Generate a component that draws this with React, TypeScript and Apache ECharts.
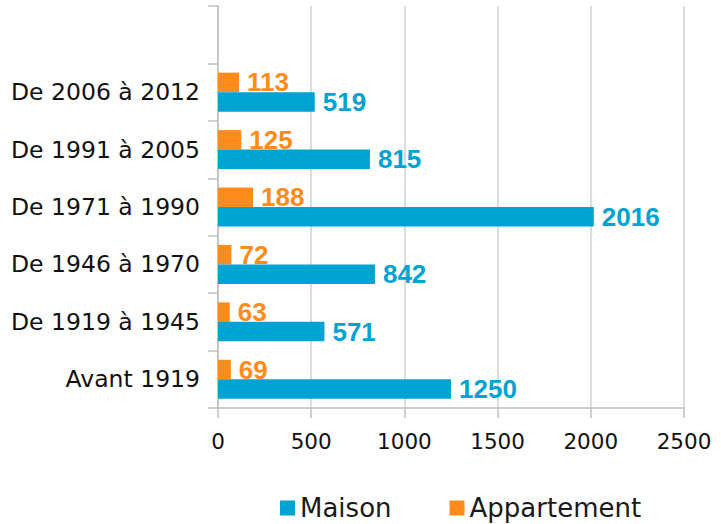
import React, { useEffect, useRef } from "react";
import * as echarts from "echarts";

const categories = ["Avant 1919", "De 1919 à 1945", "De 1946 à 1970", "De 1971 à 1990", "De 1991 à 2005", "De 2006 à 2012", ""];
const maison = [1250, 571, 842, 2016, 815, 519, null];
const appartement = [69, 63, 72, 188, 125, 113, null];
const xTicks = [0, 500, 1000, 1500, 2000, 2500];

const BLUE = "#00A3D1";
const ORANGE = "#FF8C1A";

export default function App() {
  const ref = useRef<HTMLDivElement>(null);
  useEffect(() => {
    if (!ref.current) return;
    const chart = echarts.init(ref.current, null, { renderer: "svg" });
    const labelStyle = (color: string) => ({
      show: true,
      position: "right",
      distance: 8,
      color,
      fontFamily: "Liberation Sans",
      fontWeight: "bold",
      fontSize: 26,
    });
    chart.setOption({
      animation: false,
      grid: { left: 218, right: 37, top: 6, bottom: 116, containLabel: false },
      legend: {
        left: 275,
        top: 490,
        itemWidth: 15,
        itemHeight: 15,
        itemGap: 58,
        icon: "rect",
        textStyle: { fontFamily: "DejaVu Sans", fontSize: 26, color: "#1a1a1a" },
        data: ["Maison", "Appartement"],
      },
      xAxis: {
        type: "value",
        min: xTicks[0],
        max: xTicks[xTicks.length - 1],
        interval: 500,
        axisLine: { show: true, lineStyle: { color: "#BFBFBF", width: 1.5 } },
        axisTick: { show: true, length: 10, lineStyle: { color: "#BFBFBF", width: 1.5 } },
        splitLine: { show: true, lineStyle: { color: "#D0D0D0", width: 1.5 } },
        axisLabel: {
          fontFamily: "DejaVu Sans",
          fontSize: 21.5,
          color: "#111",
          margin: 22,
          formatter: (v: number) => String(v),
        },
      },
      yAxis: {
        type: "category",
        data: categories,
        axisLine: { show: true, lineStyle: { color: "#BFBFBF", width: 1.5 } },
        axisTick: { show: true, length: 10, lineStyle: { color: "#BFBFBF", width: 1.5 } },
        axisLabel: { fontFamily: "DejaVu Sans", fontSize: 23.5, color: "#111", margin: 18 },
      },
      series: [
        {
          name: "Appartement",
          type: "bar",
          data: appartement,
          barWidth: 19.5,
          barGap: "0%",
          itemStyle: { color: ORANGE },
          label: labelStyle(ORANGE),
        },
        {
          name: "Maison",
          type: "bar",
          data: maison,
          barWidth: 19.5,
          barGap: "0%",
          itemStyle: { color: BLUE },
          label: labelStyle(BLUE),
        },
      ],
    });
    return () => chart.dispose();
  }, []);
  return <div ref={ref} style={{ width: 721, height: 524, position: "absolute", left: 0, top: 0 }} />;
}
